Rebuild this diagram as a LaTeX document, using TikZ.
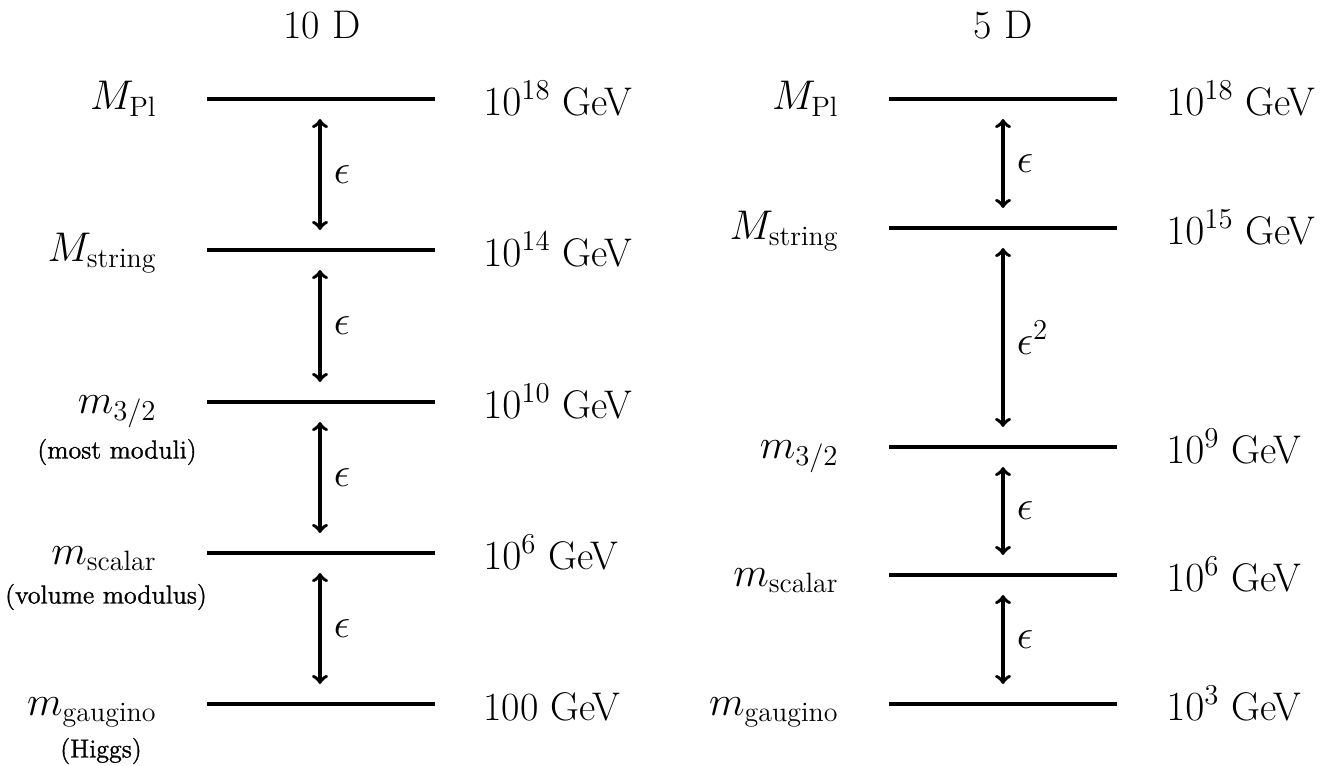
\documentclass[tikz,border=0pt]{standalone}
\usepackage{fontspec}
\newfontfamily\notefont[FakeBold=1.2]{Latin Modern Roman}
\begin{document}
\begin{tikzpicture}[x=0.5pt, y=-0.5pt,
    level/.style = {line width=2.3pt},
    gap/.style = {<->, >=to, line width=1.8pt},
    big/.style = {inner sep=0pt, font=\fontsize{20}{24}\selectfont},
    note/.style = {inner sep=0pt, font=\notefont\fontsize{13}{15}\selectfont}]
    \useasboundingbox (0,0) rectangle (1326,765);

    % 10 D
    \node[big] (tten) at (322,25) {10 D};
    \foreach \n/\y/\lab/\val in {a/99/{M_{\rm Pl}}/{$10^{18}$}, b/250/{M_{\rm string}}/{$10^{14}$},
            c/402/{m_{3/2}}/{$10^{10}$}, d/553/{m_{\rm scalar}}/{$10^{6}$}, e/704/{m_{\rm gaugino}}/{100}} {
        \coordinate (tl\n) at (207,\y);
        \coordinate (tr\n) at (435,\y);
        \coordinate (tm\n) at (320,\y);
        \draw[level] (tl\n) -- (tr\n);
        \node[big, anchor=base east] (tlab\n) at (157,\y+11) {$\lab$};
        \node[big, anchor=base west] (tval\n) at (483,\y+16) {\val{} GeV};
    }
    \foreach \p/\q in {a/b, b/c, c/d, d/e} {
        \draw[gap] ([yshift=-10pt]tm\p) -- ([yshift=10pt]tm\q)
            node[big, midway, right=6pt] {$\epsilon$};
    }
    \node[note] (tmod) at (117,452) {(most moduli)};
    \node[note] (tvol) at (106,597) {(volume modulus)};
    \node[note] (thig) at (101,751) {(Higgs)};

    % 5 D
    \node[big] (tfive) at (1003,25) {5 D};
    \foreach \n/\y/\lab/\val in {a/99/{M_{\rm Pl}}/{$10^{18}$}, b/228/{M_{\rm string}}/{$10^{15}$},
            c/447/{m_{3/2}}/{$10^{9}$}, d/575/{m_{\rm scalar}}/{$10^{6}$}, e/704/{m_{\rm gaugino}}/{$10^{3}$}} {
        \coordinate (fl\n) at (889,\y);
        \coordinate (fr\n) at (1117,\y);
        \coordinate (fm\n) at (1003,\y);
        \draw[level] (fl\n) -- (fr\n);
        \node[big, anchor=base east] (flab\n) at (839,\y+11) {$\lab$};
        \node[big, anchor=base west] (fval\n) at (1166,\y+16) {\val{} GeV};
    }
    \foreach \p/\q/\r in {a/b/{\epsilon}, b/c/{\epsilon^2}, c/d/{\epsilon}, d/e/{\epsilon}} {
        \draw[gap] ([yshift=-10pt]fm\p) -- ([yshift=10pt]fm\q)
            node[big, midway, right=6pt] {$\r$};
    }
\end{tikzpicture}
\end{document}
